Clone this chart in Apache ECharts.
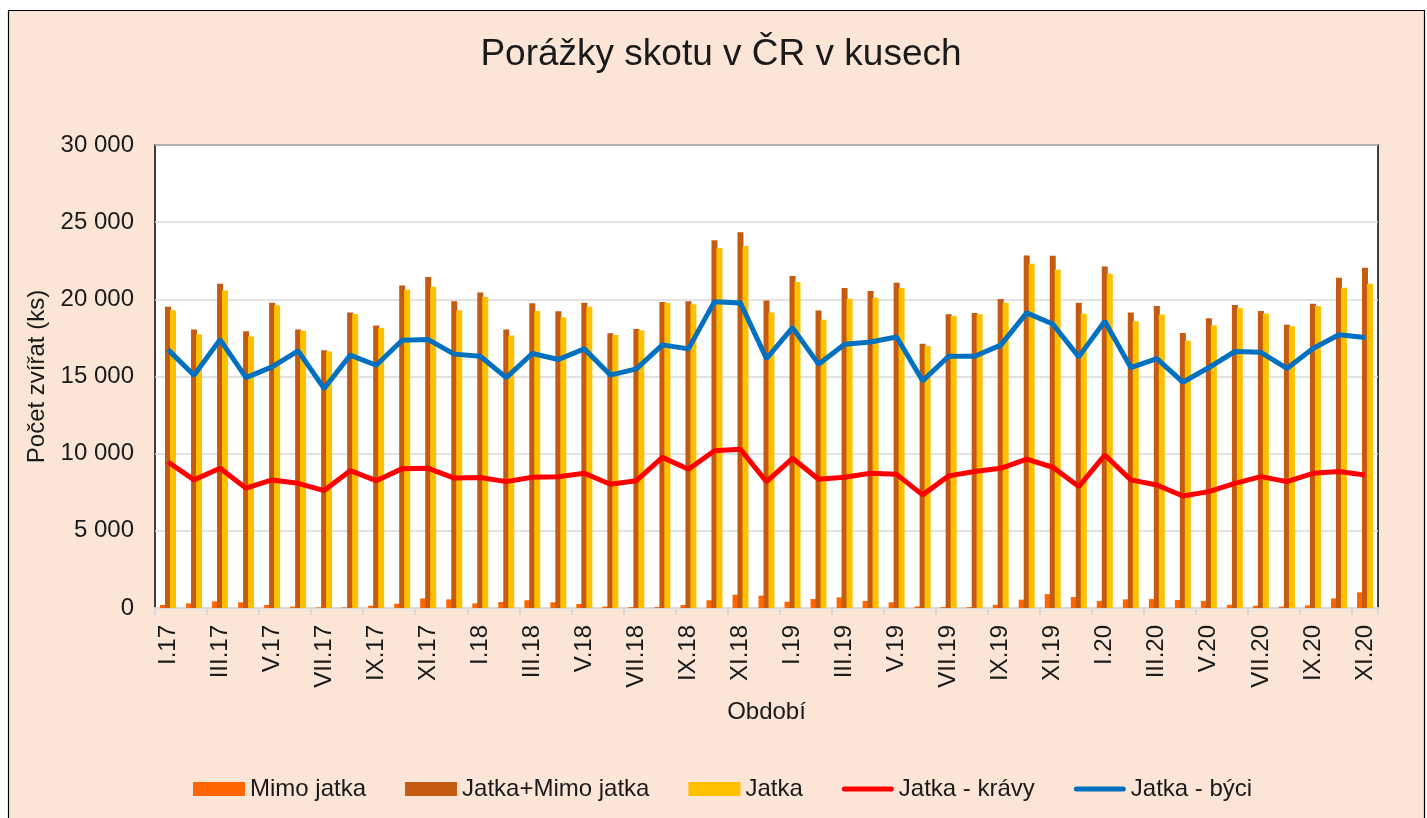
<!DOCTYPE html>
<html>
<head>
<meta charset="utf-8">
<script src="https://cdn.jsdelivr.net/npm/echarts@6/dist/echarts.min.js"></script>
<style>
html,body{margin:0;padding:0;background:#fff;}
#main{width:1427px;height:818px;}
</style>
</head>
<body>
<div id="main"></div>
<script>
const categories = ['I.17','II.17','III.17','IV.17','V.17','VI.17','VII.17','VIII.17','IX.17','X.17','XI.17','XII.17',
'I.18','II.18','III.18','IV.18','V.18','VI.18','VII.18','VIII.18','IX.18','X.18','XI.18','XII.18',
'I.19','II.19','III.19','IV.19','V.19','VI.19','VII.19','VIII.19','IX.19','X.19','XI.19','XII.19',
'I.20','II.20','III.20','IV.20','V.20','VI.20','VII.20','VIII.20','IX.20','X.20','XI.20'];

const mimoJatka = [200,300,430,370,200,90,40,40,150,280,620,560,
300,390,500,370,260,90,60,60,190,500,860,800,
410,580,690,450,370,100,60,60,210,540,900,710,
450,560,580,520,450,210,150,90,170,620,1010];

const jatkaMimo = [19520,18040,21010,17930,19780,18040,16700,19140,18300,20900,21440,19870,
20450,18040,19740,19220,19780,17800,18080,19830,19870,23830,24350,19930,
21510,19270,20730,20540,21080,17130,19030,19120,20020,22840,22820,19780,
22130,19140,19570,17820,18770,19630,19240,18360,19720,21400,22050];

const jatka = [19290,17740,20580,17590,19610,17970,16620,19050,18150,20620,20820,19290,
20150,17650,19240,18840,19520,17690,18000,19760,19680,23320,23450,19140,
21120,18680,20040,20110,20730,16980,18920,19030,19780,22300,21920,19070,
21660,18580,19010,17310,18320,19420,19090,18250,19570,20750,21010];

const kravy = [9460,8300,9050,7760,8300,8080,7610,8900,8250,9030,9050,8420,
8450,8190,8470,8510,8730,8020,8250,9760,8990,10190,10280,8190,
9700,8340,8470,8730,8660,7330,8560,8840,9050,9650,9120,7870,
9910,8300,7970,7260,7540,8080,8510,8190,8730,8840,8620];

const byci = [16740,15080,17390,14930,15620,16660,14220,16380,15730,17350,17390,16450,
16310,14930,16490,16100,16790,15090,15490,17050,16790,19850,19760,16160,
18170,15800,17090,17240,17560,14720,16310,16310,17030,19120,18400,16270,
18580,15580,16160,14630,15580,16620,16570,15520,16810,17710,17520];

const seriesNames = ['Mimo jatka','Jatka+Mimo jatka','Jatka','Jatka - krávy','Jatka - býci'];

const FONT = "'Liberation Sans', Arial, sans-serif";
const TXT = '#1a1a1a';
const LINE_ICON = 'path://M2.5,0 L49.5,0 A2.5,2.5 0 0 1 49.5,5 L2.5,5 A2.5,2.5 0 0 1 2.5,0 Z';
const chart = echarts.init(document.getElementById('main'), null, {renderer:'canvas'});

const fmt = v => String(v).replace(/\B(?=(\d{3})+(?!\d))/g, ' ');

chart.setOption({
  backgroundColor: '#ffffff',
  animation: false,
  textStyle: {fontFamily: FONT, color: TXT},
  graphic: [{
    type: 'rect', z: -10, silent: true,
    shape: {x: 8.5, y: 10.5, width: 1416, height: 812},
    style: {fill: '#FBE5D6', stroke: '#000', lineWidth: 1.2}
  }],
  title: {
    text: 'Porážky skotu v ČR v kusech',
    left: 716, top: 31, textAlign: 'center',
    textStyle: {fontFamily: FONT, fontSize: 37, fontWeight: 'normal', color: TXT}
  },
  legend: {
    left: 188, top: 772,
    itemWidth: 52, itemHeight: 14, itemGap: 39,
    textStyle: {fontFamily: FONT, fontSize: 24, color: TXT},
    data: [
      {name: seriesNames[0], icon: 'rect'},
      {name: seriesNames[1], icon: 'rect'},
      {name: seriesNames[2], icon: 'rect'},
      {name: seriesNames[3], icon: LINE_ICON},
      {name: seriesNames[4], icon: LINE_ICON}
    ]
  },
  grid: {
    left: 155, top: 145, width: 1223, height: 463,
    show: true, backgroundColor: '#ffffff', borderColor: '#000', borderWidth: 1.5
  },
  xAxis: {
    type: 'category', data: categories, boundaryGap: true,
    name: 'Období', nameLocation: 'middle', nameGap: 92,
    nameTextStyle: {fontFamily: FONT, fontSize: 24, color: TXT},
    axisLine: {lineStyle: {color: '#D9D9D9', width: 2}},
    axisTick: {show: true, interval: 1, length: 7, lineStyle: {color: '#D9D9D9', width: 2}},
    axisLabel: {interval: 1, rotate: 90, margin: 17, fontFamily: FONT, fontSize: 24, color: TXT}
  },
  yAxis: {
    type: 'value', min: 0, max: 30000, interval: 5000,
    name: 'Počet zvířat (ks)', nameLocation: 'middle', nameGap: 98,
    nameTextStyle: {fontFamily: FONT, fontSize: 24, color: TXT},
    axisLine: {show: false}, axisTick: {show: false},
    axisLabel: {margin: 21, fontFamily: FONT, fontSize: 24, color: TXT, formatter: fmt},
    splitLine: {lineStyle: {color: '#D9D9D9', width: 1.5}}
  },
  series: [
    {name: seriesNames[0], type: 'bar', data: mimoJatka, barWidth: 6, barGap: '-17%', itemStyle: {color: '#FF6600'}},
    {name: seriesNames[1], type: 'bar', data: jatkaMimo, barWidth: 6, barGap: '-17%', itemStyle: {color: '#C55A11'}},
    {name: seriesNames[2], type: 'bar', data: jatka, barWidth: 6, barGap: '-17%', itemStyle: {color: '#FFC000'}},
    {name: seriesNames[3], type: 'line', data: kravy, symbol: 'none', z: 5, lineStyle: {color: '#FF0000', width: 5}, itemStyle: {color: '#FF0000'}},
    {name: seriesNames[4], type: 'line', data: byci, symbol: 'none', z: 5, lineStyle: {color: '#0070C0', width: 5}, itemStyle: {color: '#0070C0'}}
  ]
});
</script>
</body>
</html>
